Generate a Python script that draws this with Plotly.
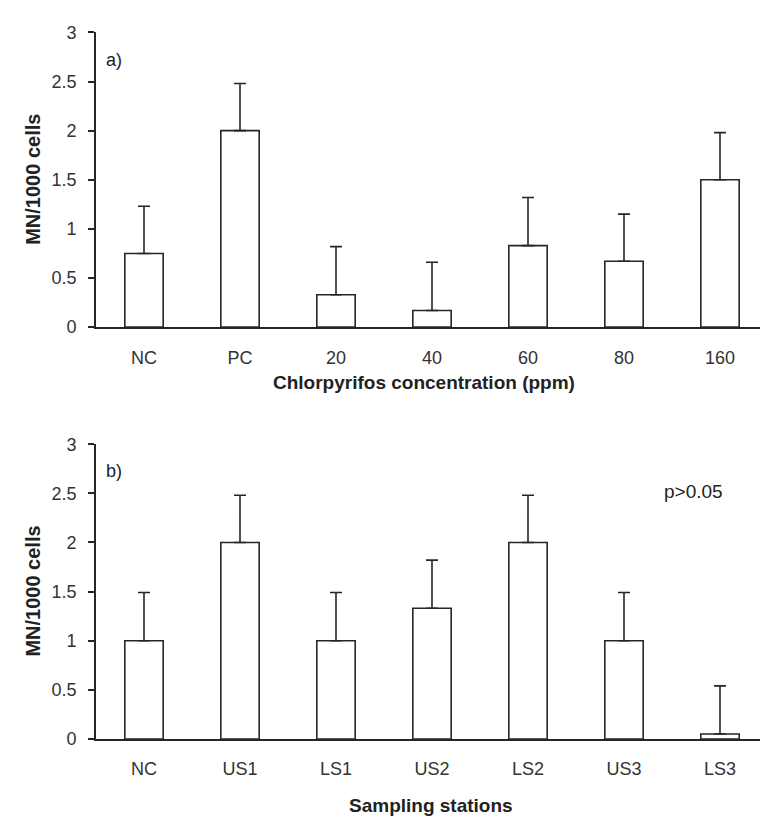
import plotly.graph_objects as go

# Panel a data
conc_labels = ["NC", "PC", "20", "40", "60", "80", "160"]
conc_values = [0.75, 2.0, 0.33, 0.17, 0.83, 0.67, 1.5]
conc_errors = [0.48, 0.48, 0.49, 0.49, 0.49, 0.48, 0.48]

# Panel b data
station_labels = ["NC", "US1", "LS1", "US2", "LS2", "US3", "LS3"]
station_values = [1.0, 2.0, 1.0, 1.33, 2.0, 1.0, 0.05]
station_errors = [0.49, 0.48, 0.49, 0.49, 0.48, 0.49, 0.49]

y_ticks = [0, 0.5, 1, 1.5, 2, 2.5, 3]
y_tick_text = ["0", "0.5", "1", "1.5", "2", "2.5", "3"]

W, H = 760, 827
FONT = "Liberation Sans, Arial, sans-serif"
INK = "#262626"

def py(pix):
    return 1 - pix / H

fig = go.Figure()

def add_panel(labels, values, errors, xa, ya):
    fig.add_trace(go.Bar(
        x=labels, y=values, xaxis=xa, yaxis=ya, width=0.4,
        marker=dict(color="white", line=dict(color=INK, width=1.6)),
        error_y=dict(type="data", array=errors, arrayminus=[0] * len(errors),
                     symmetric=False, color=INK, thickness=1.6, width=6),
        showlegend=False, hoverinfo="x+y",
    ))

add_panel(conc_labels, conc_values, conc_errors, "x", "y")
add_panel(station_labels, station_values, station_errors, "x2", "y2")

xdom = [96 / W, 1.0]
xrng = [-0.5, -0.5 + (W - 96) / 96]

def xaxis_cfg(anchor):
    return dict(domain=xdom, range=xrng, anchor=anchor, showgrid=False,
                showline=True, linecolor=INK, linewidth=1.6, ticks="",
                ticklabelstandoff=13, tickfont=dict(family=FONT, size=18, color="#333"),
                zeroline=False, fixedrange=True)

def yaxis_cfg(anchor, top_pix, bot_pix):
    return dict(domain=[py(bot_pix), py(top_pix)], range=[0, 3], anchor=anchor,
                tickvals=y_ticks, ticktext=y_tick_text, showgrid=False,
                showline=True, linecolor=INK, linewidth=1.6, ticks="outside",
                ticklen=6, tickwidth=1.6, tickcolor=INK, ticklabelstandoff=8,
                tickfont=dict(family=FONT, size=18, color="#333"),
                zeroline=False, fixedrange=True)

fig.update_layout(
    width=W, height=H, margin=dict(l=0, r=0, t=0, b=0),
    paper_bgcolor="white", plot_bgcolor="white",
    xaxis=xaxis_cfg("y"), yaxis=yaxis_cfg("x", 23, 325),
    xaxis2=xaxis_cfg("y2"), yaxis2=yaxis_cfg("x2", 445, 747),
    bargap=0.6,
)

def ann(text, x, y, size, bold=False, angle=0, xanchor="center"):
    fig.add_annotation(
        text=f"<b>{text}</b>" if bold else text, x=x / W, y=py(y), xref="paper", yref="paper",
        xanchor=xanchor, yanchor="middle", showarrow=False, textangle=angle,
        font=dict(family=FONT, size=size, color="#222"),
    )

ann("Chlorpyrifos concentration (ppm)", 424, 382, 19, bold=True)
ann("Sampling stations", 431, 815, 19, bold=True)
ann("MN/1000 cells", 33, 174, 20, bold=True, angle=-90)
ann("MN/1000 cells", 33, 596, 20, bold=True, angle=-90)
ann("a)", 104, 51, 18, xanchor="left")
ann("b)", 104, 472, 18, xanchor="left")
ann("p>0.05", 662, 493, 19, xanchor="left")

fig.write_html("out.html")
